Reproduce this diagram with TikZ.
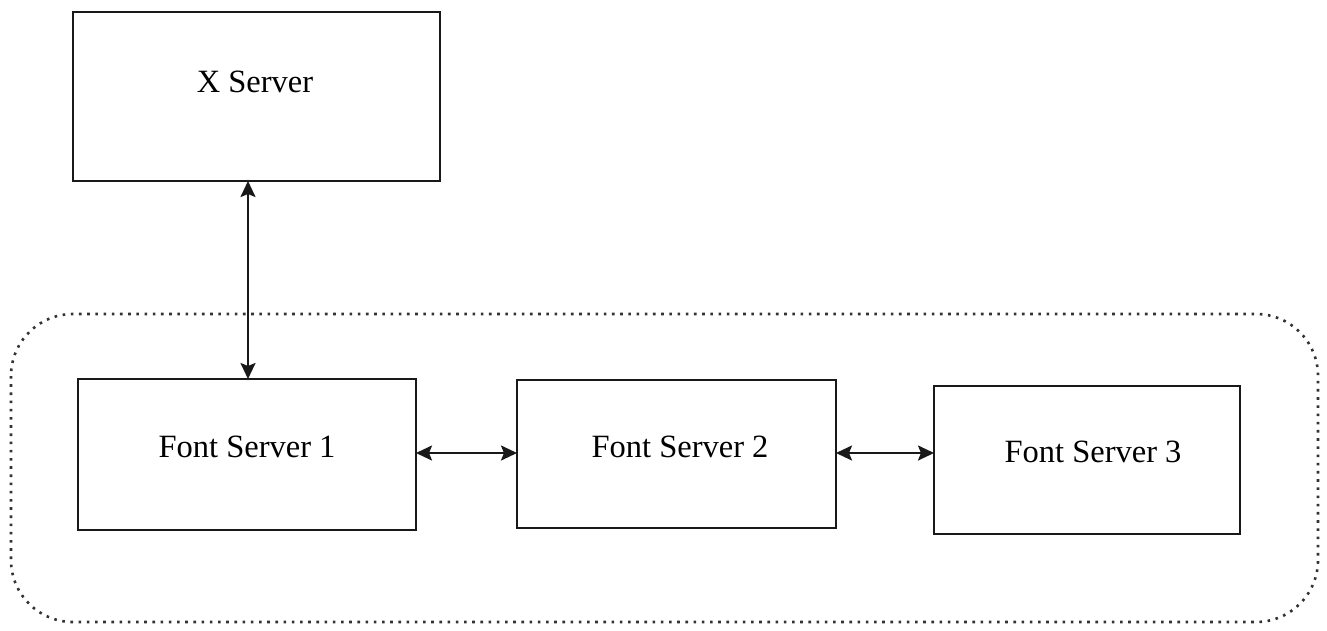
\documentclass[tikz,border=0pt]{standalone}
\usepackage{fontspec}
\setmainfont{Liberation Serif}
\usetikzlibrary{arrows.meta}
\begin{document}
\begin{tikzpicture}[x=1pt,y=-1pt,
  box/.style={draw=black!90, line width=2pt, inner sep=0pt},
  lbl/.style={font=\fontsize{32.5}{38}\selectfont},
  conn/.style={line width=2.2pt, draw=black!90, {Stealth[length=16pt,width=15pt,inset=3pt]}-{Stealth[length=16pt,width=15pt,inset=3pt]}},
  group/.style={draw=black!80, line width=2.6pt, dash pattern=on 2.6pt off 5.6pt, rounded corners=62pt}]
\useasboundingbox (0,0) rectangle (1327,630);
\draw[group] (11,314) rectangle (1318,622);
\draw[box] (73,12) rectangle (440,181);
\node[lbl] (xs) at (255,82) {X Server};
\coordinate (xsb) at (248,181);
\draw[box] (78,379) rectangle (416,530);
\node[lbl] (f1) at (247,447) {Font Server 1};
\coordinate (f1t) at (248,379);
\coordinate (f1r) at (416,453);
\draw[box] (517,380) rectangle (836,528);
\node[lbl] (f2) at (680,447) {Font Server 2};
\coordinate (f2l) at (517,453);
\coordinate (f2r) at (836,453);
\draw[box] (934,386) rectangle (1240,534);
\node[lbl] (f3) at (1093,452) {Font Server 3};
\coordinate (f3l) at (934,453);
\draw[conn] (xsb) -- (f1t);
\draw[conn] (f1r) -- (f2l);
\draw[conn] (f2r) -- (f3l);
\end{tikzpicture}
\end{document}
